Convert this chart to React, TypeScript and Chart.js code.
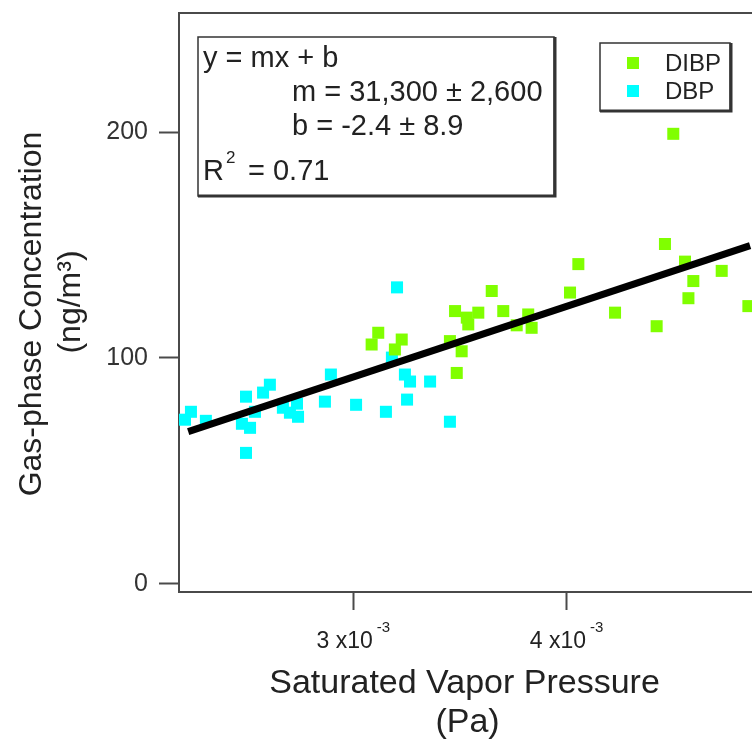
import React, { useEffect, useRef } from "react";
import { Chart, registerables } from "chart.js";

Chart.register(...registerables);

const FONT = '"Liberation Sans", Arial, Helvetica, sans-serif';

// DIBP (green)
const dibpX = [
  0.003086, 0.003117, 0.003195, 0.003227, 0.003453, 0.003477, 0.003508, 0.003485, 0.003532,
  0.003539, 0.003586, 0.003649, 0.003703, 0.003766, 0.00382, 0.003836, 0.004016, 0.004055,
  0.004227, 0.004422, 0.004461, 0.0045, 0.004555, 0.004571, 0.004594, 0.004727, 0.004852,
];
const dibpY = [
  105.9, 111.1, 103.7, 108.1, 107.4, 120.7, 102.9, 93.3, 117.8,
  114.8, 120.0, 129.6, 120.7, 114.4, 119.2, 113.3, 128.9, 141.5,
  120.0, 114.0, 150.4, 199.2, 142.6, 126.4, 134.0, 138.5, 122.9,
];

// DBP (cyan)
const dbpX = [
  0.002211, 0.002239, 0.002309, 0.002478, 0.002516, 0.002497, 0.002497, 0.002539, 0.002577,
  0.002609, 0.00267, 0.002703, 0.002736, 0.002741, 0.002867, 0.002895, 0.003013, 0.003153,
  0.003205, 0.003181, 0.003242, 0.003266, 0.003252, 0.00336, 0.003453,
];
const dbpY = [
  72.6, 76.1, 72.1, 70.8, 69.0, 57.9, 82.8, 76.1, 84.6,
  88.1, 77.9, 75.7, 79.7, 73.9, 80.6, 92.6, 79.2, 76.1,
  131.2, 100.1, 92.6, 89.5, 81.5, 89.5, 71.7,
];

// linear fit line endpoints
const fitX = [0.002226, 0.00486];
const fitY = [67.3, 149.7];

// axes
const xRange = [0.002183, 0.004869];
const yRange = [-3.7, 252.7];
const xTicks = [0.003, 0.004];
const xTickMantissa = ["3", "4"];
const xTickExponent = ["-3", "-3"];
const yTicks = [0, 100, 200];

const seriesNames = ["DIBP", "DBP"];
const seriesColors = ["#80ff00", "#00ffff"];

const annotationLines = ["y = mx + b", "m = 31,300 \u00b1 2,600", "b = -2.4 \u00b1 8.9"];
const r2Text = "= 0.71";

const xTitle = ["Saturated Vapor Pressure", "(Pa)"];
const yTitle = ["Gas-phase Concentration", "(ng/m\u00b3)"];

const AXIS_COLOR = "#4a4a4a";
const TEXT_COLOR = "#222";

const zeroPad = (s: any) => {
  s.paddingLeft = 0;
  s.paddingRight = 0;
  s.paddingTop = 0;
  s.paddingBottom = 0;
};

const overlay = {
  id: "overlay",
  afterDraw(chart: any) {
    const ctx: CanvasRenderingContext2D = chart.ctx;
    const area = chart.chartArea;
    const xs = chart.scales.x;
    ctx.save();

    // top frame line
    ctx.strokeStyle = AXIS_COLOR;
    ctx.lineWidth = 2;
    ctx.beginPath();
    ctx.moveTo(area.left - 1, area.top);
    ctx.lineTo(area.right, area.top);
    ctx.stroke();

    ctx.fillStyle = TEXT_COLOR;
    ctx.textBaseline = "alphabetic";
    ctx.textAlign = "left";

    // x tick labels with superscripts
    xTicks.forEach((v, i) => {
      const cx = xs.getPixelForValue(v);
      ctx.font = `23px ${FONT}`;
      const main = `${xTickMantissa[i]} x10`;
      const w1 = ctx.measureText(main).width;
      ctx.font = `15px ${FONT}`;
      const w2 = ctx.measureText(xTickExponent[i]).width;
      const gap = 4;
      const start = cx - (w1 + gap + w2) / 2;
      ctx.font = `23px ${FONT}`;
      ctx.fillText(main, start, area.bottom + 56);
      ctx.font = `15px ${FONT}`;
      ctx.fillText(xTickExponent[i], start + w1 + gap, area.bottom + 40);
    });

    // x title
    ctx.textAlign = "center";
    ctx.font = `34px ${FONT}`;
    const xc = (area.left + area.right) / 2 - 1;
    ctx.fillText(xTitle[0], xc, 693);
    ctx.fillText(xTitle[1], xc + 3, 732);

    // y title (rotated)
    ctx.save();
    ctx.translate(41, 314);
    ctx.rotate(-Math.PI / 2);
    ctx.font = `32px ${FONT}`;
    ctx.fillText(yTitle[0], 0, 0);
    ctx.restore();
    ctx.save();
    ctx.translate(80, 302);
    ctx.rotate(-Math.PI / 2);
    ctx.font = `32px ${FONT}`;
    ctx.fillText(yTitle[1], 0, 0);
    ctx.restore();

    // annotation box
    const bx = 198, by = 37, bw = 356, bh = 159;
    ctx.fillStyle = "#fff";
    ctx.fillRect(bx, by, bw, bh);
    ctx.strokeStyle = "#333";
    ctx.lineWidth = 1.5;
    ctx.strokeRect(bx, by, bw, bh);
    ctx.lineWidth = 3;
    ctx.beginPath();
    ctx.moveTo(bx, by + bh);
    ctx.lineTo(bx + bw + 1, by + bh);
    ctx.lineTo(bx + bw + 1, by);
    ctx.stroke();

    ctx.fillStyle = TEXT_COLOR;
    ctx.textAlign = "left";
    ctx.font = `29px ${FONT}`;
    ctx.fillText(annotationLines[0], 203, 67);
    ctx.fillText(annotationLines[1], 292, 101);
    ctx.fillText(annotationLines[2], 292, 135);
    ctx.fillText("R", 203, 180);
    const rw = ctx.measureText("R").width;
    ctx.font = `17px ${FONT}`;
    ctx.fillText("2", 203 + rw + 2, 163);
    ctx.font = `29px ${FONT}`;
    ctx.fillText(r2Text, 248, 180);

    // legend box
    const lx = 600, ly = 43, lw = 130, lh = 68;
    ctx.fillStyle = "#fff";
    ctx.fillRect(lx, ly, lw, lh);
    ctx.strokeStyle = "#333";
    ctx.lineWidth = 1.5;
    ctx.strokeRect(lx, ly, lw, lh);
    ctx.lineWidth = 3;
    ctx.beginPath();
    ctx.moveTo(lx, ly + lh);
    ctx.lineTo(lx + lw + 1, ly + lh);
    ctx.lineTo(lx + lw + 1, ly);
    ctx.stroke();
    ctx.font = `24px ${FONT}`;
    seriesNames.forEach((name, i) => {
      const cy = 63 + i * 28;
      ctx.fillStyle = seriesColors[i];
      ctx.fillRect(627, cy - 6, 12, 12);
      ctx.fillStyle = TEXT_COLOR;
      ctx.fillText(name, 665, cy + 8);
    });

    ctx.restore();
  },
};

export default function App() {
  const ref = useRef<HTMLCanvasElement>(null);

  useEffect(() => {
    if (!ref.current) return;
    const chart = new Chart(ref.current, {
      type: "scatter",
      data: {
        datasets: [
          {
            type: "line",
            label: "fit",
            data: fitX.map((x, i) => ({ x, y: fitY[i] })),
            borderColor: "#000",
            borderWidth: 7,
            pointRadius: 0,
            fill: false,
            order: 0,
          } as any,
          {
            label: seriesNames[0],
            data: dibpX.map((x, i) => ({ x, y: dibpY[i] })),
            pointStyle: "rect",
            pointRadius: 8.5,
            pointHoverRadius: 8.5,
            backgroundColor: seriesColors[0],
            borderWidth: 0,
            order: 1,
          },
          {
            label: seriesNames[1],
            data: dbpX.map((x, i) => ({ x, y: dbpY[i] })),
            pointStyle: "rect",
            pointRadius: 8.5,
            pointHoverRadius: 8.5,
            backgroundColor: seriesColors[1],
            borderWidth: 0,
            order: 2,
          },
        ],
      },
      options: {
        animation: false,
        responsive: false,
        maintainAspectRatio: false,
        layout: { autoPadding: false, padding: { top: 13, right: 0, left: 0, bottom: 0 } },
        plugins: { legend: { display: false }, tooltip: { enabled: false } },
        scales: {
          x: {
            type: "linear",
            position: "bottom",
            min: xRange[0],
            max: xRange[1],
            afterBuildTicks: (s: any) => {
              s.ticks = xTicks.map((v) => ({ value: v }));
            },
            afterFit: (s: any) => {
              s.height = 148;
              zeroPad(s);
            },
            ticks: { callback: () => "", font: { size: 10 } },
            grid: {
              drawOnChartArea: false,
              drawTicks: true,
              tickLength: 18,
              tickColor: AXIS_COLOR,
              tickWidth: 2,
            },
            border: { display: true, color: AXIS_COLOR, width: 2 },
          },
          y: {
            type: "linear",
            position: "left",
            min: yRange[0],
            max: yRange[1],
            afterBuildTicks: (s: any) => {
              s.ticks = yTicks.map((v) => ({ value: v }));
            },
            afterFit: (s: any) => {
              s.width = 179;
              zeroPad(s);
            },
            ticks: {
              font: { family: FONT, size: 25 },
              color: "#333",
              padding: 11,
              callback: (v: any) => String(v),
            },
            grid: {
              drawOnChartArea: false,
              drawTicks: true,
              tickLength: 20,
              tickColor: AXIS_COLOR,
              tickWidth: 2,
            },
            border: { display: true, color: AXIS_COLOR, width: 2 },
          },
        },
      },
      plugins: [overlay],
    });
    return () => chart.destroy();
  }, []);

  return (
    <div style={{ position: "fixed", left: 0, top: 0, width: 752, height: 740, background: "#fff" }}>
      <canvas ref={ref} width={752} height={740} style={{ width: 752, height: 740, display: "block" }} />
    </div>
  );
}
